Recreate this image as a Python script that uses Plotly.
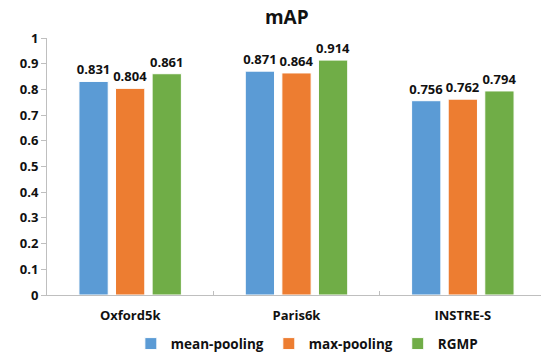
import plotly.graph_objects as go

categories = ["Oxford5k", "Paris6k", "INSTRE-S"]
mean_pooling = [0.831, 0.871, 0.756]
max_pooling = [0.804, 0.864, 0.762]
rgmp = [0.861, 0.914, 0.794]
y_ticks = [0, 0.1, 0.2, 0.3, 0.4, 0.5, 0.6, 0.7, 0.8, 0.9, 1]
y_tick_text = ["0", "0.1", "0.2", "0.3", "0.4", "0.5", "0.6", "0.7", "0.8", "0.9", "1"]

series = [
    ("mean-pooling", mean_pooling, "#5B9BD5"),
    ("max-pooling", max_pooling, "#ED7D31"),
    ("RGMP", rgmp, "#70AD47"),
]

FONT = "Open Sans"

fig = go.Figure()
for name, vals, color in series:
    fig.add_trace(go.Bar(
        name=name, x=categories, y=vals,
        marker=dict(color=color, line=dict(color="white", width=1)),
        text=[f"{v:.3f}" for v in vals],
        textposition="outside",
        constraintext="none",
        textfont=dict(family=FONT, size=13, color="#111111", weight="bold"),
        cliponaxis=False,
    ))

fig.update_layout(
    width=541, height=354,
    margin=dict(l=47, r=0, t=38, b=59, autoexpand=False),
    paper_bgcolor="white", plot_bgcolor="white",
    barmode="group", bargap=0.34, bargroupgap=0.2,
    title=dict(text="<b>mAP</b>", x=0.53, xanchor="center", y=0.95, yanchor="middle",
               font=dict(family=FONT, size=19, color="#111111")),
    font=dict(family=FONT, size=13, color="#111111"),
    legend=dict(orientation="h", x=0.526, xanchor="center", y=-0.19, yanchor="middle",
                font=dict(family=FONT, size=13.5, color="#111111", weight="bold"),
                itemwidth=30, traceorder="normal", tracegroupgap=0),
    xaxis=dict(range=[-0.5, 2.47], showline=True, linecolor="#bfbfbf", linewidth=1,
               ticks="inside", tickson="boundaries", ticklen=4, tickcolor="#bfbfbf",
               tickfont=dict(family=FONT, size=13, weight="bold"), showgrid=False,
               ticklabelstandoff=8, fixedrange=True),
    yaxis=dict(range=[0, 1], tickvals=y_ticks, ticktext=y_tick_text,
               showline=True, linecolor="#bfbfbf", linewidth=1,
               ticks="outside", ticklen=5, tickcolor="#bfbfbf",
               tickfont=dict(family=FONT, size=13, weight="bold"),
               showgrid=False, zeroline=False),
)

fig.write_html("out.html")
